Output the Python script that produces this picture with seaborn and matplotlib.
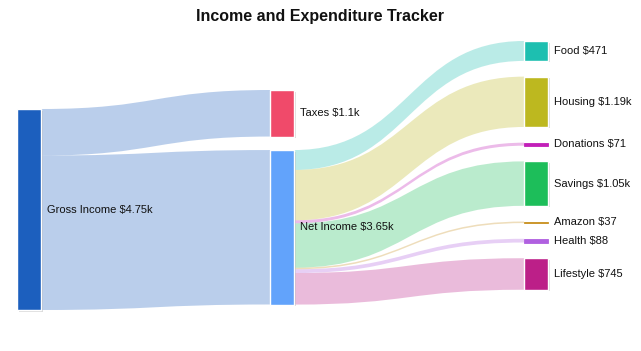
import numpy as np
import matplotlib
matplotlib.use("Agg")
import matplotlib.pyplot as plt
from matplotlib.path import Path
from matplotlib.patches import PathPatch, Rectangle
import seaborn as sns

# nodes and flows
nodes = ["Gross Income", "Taxes", "Net Income", "Food", "Housing",
         "Donations", "Savings", "Amazon", "Health", "Lifestyle"]
node_colors = ["#1c5fbe", "#f04a6a", "#62a3fb", "#1dbfb0", "#bdb81f",
               "#c21fb8", "#1dbe5a", "#c8901e", "#b060e0", "#bc1f88"]
sources = [0, 0, 2, 2, 2, 2, 2, 2, 2]
targets = [1, 2, 3, 4, 5, 6, 7, 8, 9]
values = [1100, 3650, 471, 1190, 71, 1050, 37, 88, 745]
link_color_node = [0, 0, 3, 4, 5, 6, 7, 8, 9]

sns.set_theme(style="white")
plt.rcParams["font.family"] = ["Liberation Sans", "DejaVu Sans"]

# layout (pixel space)
W, H = 641, 351
col_x = [17, 270, 524]
col_top = [109, 90, 41]
col_gap = [0, 13.5, 15.7]
node_w = 24
scale = 201 / 4750


def fmt(v):
    if v >= 1000:
        return f"${v / 1000:.3g}k"
    return f"${v:g}"


n = len(nodes)
inflow = np.zeros(n)
outflow = np.zeros(n)
depth = [0] * n
for s, t, v in zip(sources, targets, values):
    outflow[s] += v
    inflow[t] += v
for _ in range(n):
    for s, t in zip(sources, targets):
        depth[t] = max(depth[t], depth[s] + 1)
node_val = np.maximum(inflow, outflow)

node_y = np.zeros(n)
node_h = node_val * scale
for c in range(3):
    y = col_top[c]
    for i in range(n):
        if depth[i] == c:
            node_y[i] = y
            y += node_h[i] + col_gap[c]

fig = plt.figure(figsize=(W / 100, H / 100), dpi=100)
ax = fig.add_axes([0, 0, 1, 1])
ax.set_xlim(0, W)
ax.set_ylim(H, 0)
ax.axis("off")

# links
src_off = node_y.copy()
tgt_off = node_y.copy()
for s, t, v, ci in zip(sources, targets, values, link_color_node):
    h = v * scale
    x0 = col_x[depth[s]] + node_w
    x1 = col_x[depth[t]]
    xm = (x0 + x1) / 2
    y0, y1 = src_off[s], tgt_off[t]
    src_off[s] += h
    tgt_off[t] += h
    verts = [(x0, y0), (xm, y0), (xm, y1), (x1, y1),
             (x1, y1 + h), (xm, y1 + h), (xm, y0 + h), (x0, y0 + h), (x0, y0)]
    codes = [Path.MOVETO, Path.CURVE4, Path.CURVE4, Path.CURVE4,
             Path.LINETO, Path.CURVE4, Path.CURVE4, Path.CURVE4, Path.CLOSEPOLY]
    ax.add_patch(PathPatch(Path(verts, codes), facecolor=node_colors[ci],
                           alpha=0.3, edgecolor="none", zorder=1))

# nodes
for i in range(n):
    x = col_x[depth[i]]
    big = node_h[i] > 6
    if big:
        ax.add_patch(Rectangle((x + 1.5, node_y[i] + 1.5), node_w, node_h[i],
                               facecolor="#999999", alpha=0.35, edgecolor="none", zorder=2))
    ax.add_patch(Rectangle((x, node_y[i]), node_w, node_h[i],
                           facecolor=node_colors[i],
                           edgecolor="white" if big else node_colors[i],
                           lw=1 if big else 0.6, zorder=3))
    ax.text(x + node_w + 6, node_y[i] + node_h[i] / 2,
            f"{nodes[i]} {fmt(node_val[i])}", fontsize=8, va="center",
            ha="left", color="#111111", zorder=4)

ax.text(W / 2, 17, "Income and Expenditure Tracker", fontsize=11.5,
        fontweight="bold", ha="center", va="center", color="#111111")

fig.savefig("out.png", dpi=100)
